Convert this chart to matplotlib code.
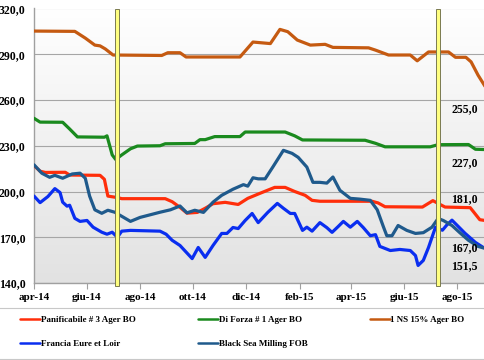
import numpy as np
import matplotlib
matplotlib.use("Agg")
import matplotlib.pyplot as plt
from matplotlib.lines import Line2D
import pandas as pd

plt.rcParams['font.family'] = ['Liberation Serif', 'DejaVu Serif']
plt.rcParams['font.weight'] = 'bold'

# ---- data (EUR/t) ----
red_dates = ['2014-04-01', '2014-04-08', '2014-04-14', '2014-05-07', '2014-05-12', '2014-06-16',
             '2014-06-21', '2014-06-25', '2014-07-06', '2014-07-11', '2014-08-30', '2014-09-07',
             '2014-09-16', '2014-09-24', '2014-10-06', '2014-10-15', '2014-10-24', '2014-11-07',
             '2014-11-22', '2014-12-03', '2014-12-17', '2015-01-03', '2015-01-15', '2015-01-26',
             '2015-02-07', '2015-02-15', '2015-02-24', '2015-04-25', '2015-05-02', '2015-05-10',
             '2015-06-22', '2015-07-04', '2015-07-18', '2015-08-16', '2015-08-27', '2015-09-02']
red_vals = [217, 213.3, 212.5, 212.6, 210.8, 210.6,
            208, 197, 196, 195.3, 195.3, 193.3,
            189.6, 185.8, 186.3, 189, 192, 192.9,
            191.5, 195.5, 198.8, 202.7, 202.7, 200,
            197.5, 194.2, 193.6, 193.6, 192.5, 190,
            189.8, 194, 189.8, 189.4, 181.5, 181]

green_dates = ['2014-04-01', '2014-04-08', '2014-05-04', '2014-05-12', '2014-05-21', '2014-06-21',
               '2014-06-24', '2014-06-30', '2014-07-04', '2014-07-11', '2014-07-21', '2014-07-29',
               '2014-08-24', '2014-08-30', '2014-10-03', '2014-10-09', '2014-10-15', '2014-10-26',
               '2014-11-24', '2014-11-30', '2015-01-15', '2015-01-26', '2015-02-04', '2015-04-17',
               '2015-04-29', '2015-05-10', '2015-07-01', '2015-07-10', '2015-08-14', '2015-08-22',
               '2015-09-02']
green_vals = [248, 245.5, 245.4, 241, 235.8, 235.6,
              236.5, 224, 221, 224, 228, 229.8,
              230, 231.3, 231.5, 234, 234, 236,
              236, 239, 239, 236.5, 233.8, 233.6,
              231.6, 229.3, 229.3, 230.7, 230.8, 227.7,
              227.5]

orange_dates = ['2014-04-01', '2014-05-18', '2014-05-30', '2014-06-10', '2014-06-16', '2014-06-22',
                '2014-07-01', '2014-08-26', '2014-09-02', '2014-09-16', '2014-09-23', '2014-11-24',
                '2014-12-09', '2014-12-29', '2015-01-09', '2015-01-18', '2015-01-29', '2015-02-13',
                '2015-03-02', '2015-03-11', '2015-04-21', '2015-04-29', '2015-05-14', '2015-06-08',
                '2015-06-16', '2015-06-29', '2015-07-22', '2015-07-30', '2015-08-11', '2015-08-17',
                '2015-08-25', '2015-09-02', '2015-09-14']
orange_vals = [305.2, 305, 300.6, 296, 295.5, 293.5,
               289.5, 289.2, 291, 291, 288.2, 288.2,
               298, 297, 306.3, 304.8, 299.3, 296,
               296.5, 294.5, 294.2, 292.7, 289.5, 289.5,
               285.7, 291.5, 291.5, 288, 288, 285,
               276.3, 269, 255]

blue_dates = ['2014-04-01', '2014-04-08', '2014-04-17', '2014-04-25', '2014-05-01', '2014-05-04',
              '2014-05-09', '2014-05-12', '2014-05-18', '2014-05-24', '2014-06-01', '2014-06-08',
              '2014-06-18', '2014-06-24', '2014-06-30', '2014-07-06', '2014-07-11', '2014-07-21',
              '2014-08-24', '2014-08-31', '2014-09-07', '2014-09-16', '2014-09-30', '2014-10-07',
              '2014-10-15', '2014-10-24', '2014-11-03', '2014-11-09', '2014-11-16', '2014-11-22',
              '2014-11-30', '2014-12-08', '2014-12-15', '2014-12-26', '2015-01-06', '2015-01-13',
              '2015-01-21', '2015-01-26', '2015-02-04', '2015-02-09', '2015-02-15', '2015-02-24',
              '2015-03-04', '2015-03-10', '2015-03-17', '2015-03-23', '2015-03-31', '2015-04-08',
              '2015-04-15', '2015-04-23', '2015-04-29', '2015-05-04', '2015-05-16', '2015-05-27',
              '2015-06-08', '2015-06-14', '2015-06-17', '2015-06-23', '2015-06-29', '2015-07-07',
              '2015-07-15', '2015-07-20', '2015-07-26', '2015-08-02', '2015-08-10', '2015-08-22',
              '2015-08-31']
blue_vals = [197, 192.7, 196.7, 201.9, 199.3, 193,
             190.4, 191, 182.4, 180.4, 181, 176.6,
             173.3, 172, 173.3, 170, 174, 174.5,
             174, 172, 168, 164.6, 156, 163.3,
             156.8, 164.6, 172.5, 172.5, 176.4, 175.7,
             181, 185.6, 179.6, 186.3, 192.2, 189,
             185.6, 185.6, 174.5, 176.6, 174, 179.6,
             176.3, 173.2, 177, 180.4, 176.6, 180.4,
             176.3, 171, 171.7, 164, 161.3, 162,
             161.3, 158, 151.5, 154.8, 163.3, 176.6,
             174.6, 178, 181.2, 177.2, 172.6, 166.6,
             163.3]

dblue_dates = ['2014-04-01', '2014-04-10', '2014-04-19', '2014-04-25', '2014-05-04', '2014-05-15',
               '2014-05-24', '2014-05-30', '2014-06-04', '2014-06-10', '2014-06-18', '2014-06-25',
               '2014-07-03', '2014-07-21', '2014-08-01', '2014-08-24', '2014-09-05', '2014-09-16',
               '2014-09-24', '2014-10-03', '2014-10-13', '2014-10-24', '2014-11-03', '2014-11-16',
               '2014-11-28', '2014-12-03', '2014-12-09', '2014-12-15', '2014-12-23', '2015-01-01',
               '2015-01-13', '2015-01-23', '2015-01-30', '2015-02-09', '2015-02-16', '2015-02-24',
               '2015-03-04', '2015-03-11', '2015-03-19', '2015-03-31', '2015-04-11', '2015-04-23',
               '2015-05-01', '2015-05-08', '2015-05-12', '2015-05-18', '2015-05-25', '2015-06-04',
               '2015-06-14', '2015-06-23', '2015-07-03', '2015-07-10', '2015-07-16', '2015-07-26',
               '2015-08-04', '2015-08-14', '2015-08-25', '2015-09-02']
dblue_vals = [217.5, 212, 209.3, 210.6, 208.7, 211.5,
              212, 208.7, 197, 188, 185.7, 187.7,
              186.4, 180.4, 183, 186.4, 188, 190.5,
              186, 187.7, 186.3, 193, 197.5, 201.5,
              204.5, 203.5, 209, 208.3, 208.3, 216.2,
              227, 225, 222.4, 216, 206, 206,
              205.5, 209.5, 200.8, 195.5, 195, 194.2,
              188, 177, 171, 171, 177.7, 174.5,
              172.5, 173, 176.6, 182.3, 181, 177.7,
              173, 168, 164, 162.7]

harvest_marks = ['2014-07-05', '2015-07-10']
end_labels = ['255,0', '227,0', '181,0', '167,0', '151,5']

yticks = [140, 170, 200, 230, 260, 290, 320]
ytick_labels = ['140,0', '170,0', '200,0', '230,0', '260,0', '290,0', '320,0']
xtick_dates = ['2014-04-01', '2014-06-01', '2014-08-01', '2014-10-01', '2014-12-01',
               '2015-02-01', '2015-04-01', '2015-06-01', '2015-08-01']
xtick_labels = ['apr-14', 'giu-14', 'ago-14', 'ott-14', 'dic-14',
                'feb-15', 'apr-15', 'giu-15', 'ago-15']

series = [
    ('Panificabile # 3 Ager BO', red_dates, red_vals, '#FF2E0A'),
    ('Di Forza # 1 Ager BO', green_dates, green_vals, '#1A8A1E'),
    ('1 NS 15% Ager BO', orange_dates, orange_vals, '#C55A11'),
    ('Francia Eure et Loir', blue_dates, blue_vals, '#0A2EF0'),
    ('Black Sea Milling FOB', dblue_dates, dblue_vals, '#1F5A8C'),
]

fig = plt.figure(figsize=(4.85, 3.6), dpi=100)
ax = fig.add_axes([34 / 485, 77 / 360, 451 / 485, 274.5 / 360])

# gradient background of the plot area
grad = np.linspace(0, 1, 256).reshape(-1, 1)
ax.imshow(grad, cmap=matplotlib.colors.LinearSegmentedColormap.from_list('bg', ['#FFFFFF', '#E2E2E2']),
          extent=[0, 1, 0, 1], transform=ax.transAxes, aspect='auto', zorder=0)

for y in yticks:
    ax.axhline(y, color='#A6A6A6', lw=0.8, zorder=1)

handles = {}
for name, d, v, c in series:
    ln, = ax.plot(pd.to_datetime(d), v, color=c, lw=2.3, solid_joinstyle='round',
                  solid_capstyle='round', zorder=3, label=name)
    handles[name] = ln

for d in pd.to_datetime(harvest_marks):
    ax.axvspan(d - pd.Timedelta(days=2.3), d + pd.Timedelta(days=2.3), ymin=-0.01, ymax=1,
               facecolor='#FFFF80', edgecolor='#7A7A50', lw=0.7, zorder=4, clip_on=False)

ax.set_xlim(pd.Timestamp('2014-04-01'), pd.Timestamp('2015-09-02'))
ax.set_ylim(140, 320)
ax.set_yticks(yticks)
ax.set_yticklabels(ytick_labels, fontsize=8.5, fontweight='bold')
ax.set_xticks(pd.to_datetime(xtick_dates))
ax.set_xticklabels(xtick_labels, fontsize=8, fontweight='bold')
ax.tick_params(axis='y', length=0, pad=6)
ax.tick_params(axis='x', length=4, color='#A0A0A0', pad=3, direction='out')
for s in ['top', 'right']:
    ax.spines[s].set_visible(False)
for s in ['left', 'bottom']:
    ax.spines[s].set_color('#A0A0A0')
    ax.spines[s].set_linewidth(1.0)

# end-of-period value labels
label_pos = [0.634, 0.437, 0.306, 0.1275, 0.062]
for txt, yp in zip(end_labels, label_pos):
    ax.text(0.955, yp, txt, transform=ax.transAxes, ha='center', va='center',
            fontsize=8.5, fontweight='bold', zorder=5)

# legend area
for yy in [1 - 308 / 360, 1 - 359 / 360]:
    fig.add_artist(Line2D([0, 1], [yy, yy], transform=fig.transFigure, color='#C8C8C8', lw=0.8))

order = ['Panificabile # 3 Ager BO', 'Francia Eure et Loir', 'Di Forza # 1 Ager BO',
         'Black Sea Milling FOB', '1 NS 15% Ager BO']
leg = fig.legend([handles[k] for k in order], order, ncol=3, loc='upper left',
                 bbox_to_anchor=(20 / 485, 1 - 316 / 360), frameon=False,
                 prop={'size': 6.5, 'weight': 'bold'}, handlelength=2.2, handletextpad=0.1,
                 columnspacing=6.9, labelspacing=1.7, borderpad=0, borderaxespad=0)
for l in leg.get_lines():
    l.set_linewidth(1.8)

fig.savefig('out.png', dpi=100)
